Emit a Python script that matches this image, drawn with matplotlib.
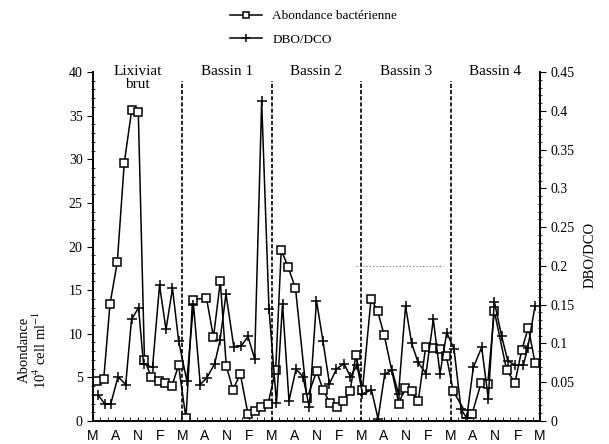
import matplotlib
matplotlib.use("Agg")
import matplotlib.pyplot as plt
from matplotlib.ticker import MultipleLocator
from matplotlib.transforms import blended_transform_factory

plt.rcParams['font.family'] = ['Liberation Serif', 'DejaVu Serif']
plt.rcParams['mathtext.fontset'] = 'stix'

# sampling dates (months from start)
abond_mois = [0.50, 1.44, 2.28, 3.26, 4.20, 5.19, 6.08, 6.91, 7.85, 8.82, 9.70, 10.60, 11.48,
              12.48, 13.36, 15.23, 16.17, 17.09, 17.89, 18.79, 19.77, 20.81, 21.70, 22.59, 23.49,
              24.52, 25.27, 26.21, 27.18, 28.72, 30.03, 30.91, 31.81, 32.71, 33.60, 34.50, 35.30,
              36.17, 37.32, 38.21, 39.10, 41.05, 41.88, 42.78, 43.66, 44.66, 45.68, 46.58, 47.42,
              48.36, 50.13, 50.87, 52.08, 52.98, 53.87, 55.53, 56.64, 57.54, 58.43, 59.33]
abondance = [4.6, 4.8, 13.4, 18.2, 29.6, 35.6, 35.4, 7.0, 5.0, 4.6, 4.3, 4.0, 6.4,
             0.3, 13.9, 14.1, 9.6, 16.0, 6.3, 3.6, 5.4, 0.8, 1.15, 1.6, 1.9,
             5.9, 19.6, 17.6, 15.2, 2.6, 5.7, 3.5, 2.1, 1.6, 2.3, 3.4, 7.6,
             3.6, 14.0, 12.6, 9.8, 2.0, 3.8, 3.4, 2.3, 8.5, 8.4, 8.2, 7.5,
             3.4, 0.8, 0.8, 4.3, 4.2, 12.6, 5.8, 4.4, 8.1, 10.7, 6.7]

dbo_mois = [0.67, 1.57, 2.38, 3.36, 4.39, 5.17, 6.11, 6.78, 7.99, 8.93, 9.80, 10.67, 11.50,
            12.59, 13.49, 14.40, 15.30, 16.34, 17.05, 17.85, 18.89, 19.91, 20.81, 21.70, 22.64,
            23.62, 24.63, 25.44, 26.31, 27.25, 28.19, 29.03, 30.00, 30.87, 31.74, 32.68, 33.69,
            34.56, 35.44, 36.17, 37.38, 38.26, 39.15, 40.13, 41.01, 41.95, 42.78, 43.62, 44.70,
            45.68, 46.58, 47.48, 48.46, 49.40, 50.16, 51.05, 52.17, 53.06, 53.87, 54.86, 55.66,
            56.64, 57.76, 58.35, 59.33]
dbo_dco = [0.034, 0.022, 0.022, 0.057, 0.047, 0.131, 0.146, 0.074, 0.069, 0.175, 0.118, 0.171, 0.103,
           0.052, 0.150, 0.047, 0.056, 0.074, 0.104, 0.164, 0.096, 0.097, 0.109, 0.080, 0.412,
           0.145, 0.023, 0.151, 0.026, 0.067, 0.057, 0.018, 0.155, 0.103, 0.048, 0.067, 0.074,
           0.057, 0.072, 0.035, 0.040, 0.003, 0.060, 0.066, 0.035, 0.148, 0.100, 0.076, 0.061,
           0.131, 0.061, 0.114, 0.093, 0.015, 0.004, 0.069, 0.095, 0.029, 0.154, 0.109, 0.078,
           0.072, 0.072, 0.094, 0.148]

bassins = ['Lixiviat\nbrut', 'Bassin 1', 'Bassin 2', 'Bassin 3', 'Bassin 4']
limites = [12, 24, 36, 48]
mois_labels = ['M', 'A', 'N', 'F'] * 5 + ['M']

fig = plt.figure(figsize=(6.09, 4.44), dpi=100)
ax = fig.add_axes([0.1527, 0.0518, 0.734, 0.786])
ax2 = ax.twinx()

l1, = ax.plot(abond_mois, abondance, color='black', lw=1.1, marker='s', ms=5.8,
              mfc='white', mec='black', mew=1.1, zorder=3)
l2, = ax2.plot(dbo_mois, dbo_dco, color='black', lw=1.1, marker='+', ms=7.5, mew=1.1, zorder=3)

# faint dotted line seen in Bassin 3
ax2.plot([35.3, 47.0], [0.2, 0.2], color='0.45', lw=0.8, ls=(0, (1, 2)))

for x in limites:
    ax.axvline(x, ymax=0.975, color='black', lw=1.2, ls=(0, (2.5, 1.2)))

ax.set_xlim(0, 60)
ax.set_ylim(0, 40)
ax2.set_ylim(0, 0.45)

ax.set_xticks(range(0, 61, 3))
ax.set_xticklabels(mois_labels, family='Liberation Sans', fontsize=10)
ax.xaxis.set_minor_locator(MultipleLocator(1))
ax.tick_params(axis='x', which='both', direction='in', length=3, pad=6)

ax.yaxis.set_major_locator(MultipleLocator(5))
ax.yaxis.set_minor_locator(MultipleLocator(1))
ax.tick_params(axis='y', which='major', direction='out', length=4, labelsize=10)
ax.tick_params(axis='y', which='minor', direction='inout', length=3)

ax2.yaxis.set_major_locator(MultipleLocator(0.05))
ax2.yaxis.set_minor_locator(MultipleLocator(0.01))
ax2.set_yticklabels([f'{v:g}' for v in ax2.get_yticks()])
ax2.tick_params(axis='y', which='major', direction='out', length=4, labelsize=10)
ax2.tick_params(axis='y', which='minor', direction='inout', length=3)

for a in (ax, ax2):
    a.spines['top'].set_visible(False)
    for s in a.spines.values():
        s.set_linewidth(1.2)

trans = blended_transform_factory(ax.transData, ax.transAxes)
for i, nom in enumerate(bassins):
    ax.text(12 * i + 6, 1.02, nom, transform=trans, ha='center', va='top',
            fontsize=11, linespacing=1.0)

fig.text(0.055, 0.212, 'Abondance\n10$^4$ cell ml$^{-1}$', rotation=90,
         ha='center', va='center', fontsize=10.5, linespacing=1.1)
fig.text(0.969, 0.426, 'DBO/DCO', rotation=90, ha='center', va='center', fontsize=10.5)

fig.legend([l1, l2], ['Abondance bactérienne', 'DBO/DCO'], loc='upper left',
           bbox_to_anchor=(0.365, 0.995), frameon=False, fontsize=9.5,
           handlelength=2.4, labelspacing=0.85, borderaxespad=0.2, markerscale=0.85)

fig.savefig('out.png', dpi=100)
